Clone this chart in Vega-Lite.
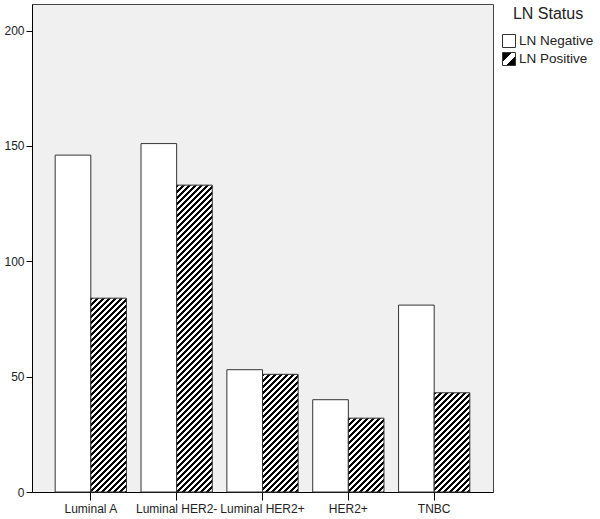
{
  "$schema": "https://vega.github.io/schema/vega-lite/v6.json",
  "width": 461,
  "height": 488,
  "autosize": {"type": "none"},
  "padding": {"left": 32, "top": 4, "right": 107, "bottom": 27},
  "background": "white",
  "config": {"view": {"fill": "#f0f0f0", "stroke": "#444", "strokeWidth": 1}},
  "data": {"values": [
    {"subtype": "Luminal A", "status": "LN Negative", "count": 146},
    {"subtype": "Luminal A", "status": "LN Positive", "count": 84},
    {"subtype": "Luminal HER2-", "status": "LN Negative", "count": 151},
    {"subtype": "Luminal HER2-", "status": "LN Positive", "count": 133},
    {"subtype": "Luminal HER2+", "status": "LN Negative", "count": 53},
    {"subtype": "Luminal HER2+", "status": "LN Positive", "count": 51},
    {"subtype": "HER2+", "status": "LN Negative", "count": 40},
    {"subtype": "HER2+", "status": "LN Positive", "count": 32},
    {"subtype": "TNBC", "status": "LN Negative", "count": 81},
    {"subtype": "TNBC", "status": "LN Positive", "count": 43}
  ]},
  "mark": {"type": "bar", "strokeWidth": 1},
  "encoding": {
    "x": {"field": "subtype", "type": "nominal", "sort": ["Luminal A", "Luminal HER2-", "Luminal HER2+", "HER2+", "TNBC"],
      "scale": {"paddingInner": 0.17, "paddingOuter": 0.27},
      "axis": {"title": null, "labelAngle": 0, "labelOverlap": false, "tickSize": 8, "labelPadding": 3, "labelFontSize": 12, "labelFont": "Liberation Sans", "labelColor": "#222", "domainColor": "#000", "tickColor": "#000", "grid": false}},
    "xOffset": {"field": "status", "type": "nominal", "scale": {"paddingInner": 0, "paddingOuter": 0}},
    "y": {"field": "count", "type": "quantitative",
      "scale": {"domain": [0, 211.5], "nice": false},
      "axis": {"title": null, "values": [0, 50, 100, 150, 200], "tickSize": 6, "labelPadding": 2, "labelFontSize": 12, "labelFont": "Liberation Sans", "labelColor": "#222", "domainColor": "#000", "tickColor": "#000", "grid": false}},
    "stroke": {"field": "status", "type": "nominal",
      "scale": {"domain": ["LN Negative", "LN Positive"], "range": ["#333", "#333"]},
      "legend": {"title": "LN Status"}},
    "fill": {"field": "status", "type": "nominal",
      "scale": {"domain": ["LN Negative", "LN Positive"], "range": ["white", {"expr": "{gradient: 'linear', x1: 0, y1: 0, x2: 1, y2: 1, stops: [{offset: 0, color: '#000'}, {offset: 0.38, color: '#000'}, {offset: 0.38, color: '#fff'}, {offset: 0.62, color: '#fff'}, {offset: 0.62, color: '#000'}, {offset: 1, color: '#000'}]}"}]},
      "legend": {"title": "LN Status", "orient": "right", "offset": 7, "padding": 2, "titleFontSize": 16, "titleFontWeight": "normal", "titleFont": "Liberation Sans", "titleColor": "#222", "titleAnchor": "middle", "titlePadding": 12, "labelFontSize": 13.5, "labelFont": "Liberation Sans", "labelColor": "#222", "labelOffset": 3, "rowPadding": 0, "symbolType": "square", "symbolSize": 169, "symbolStrokeWidth": 1},
      "condition": [
        {"test": "datum.status === 'LN Positive' && datum.subtype === 'Luminal A'", "value": {"gradient": "linear", "x1": 0, "y1": 0, "x2": 0.55048, "y2": 2.9945, "stops": [
{"offset":0,"color":"#000"},{"offset":0.005,"color":"#000"},{"offset":0.005,"color":"#fff"},{"offset":0.01,"color":"#fff"},
{"offset":0.01,"color":"#000"},{"offset":0.015,"color":"#000"},{"offset":0.015,"color":"#fff"},{"offset":0.02,"color":"#fff"},
{"offset":0.02,"color":"#000"},{"offset":0.025,"color":"#000"},{"offset":0.025,"color":"#fff"},{"offset":0.03,"color":"#fff"},
{"offset":0.03,"color":"#000"},{"offset":0.035,"color":"#000"},{"offset":0.035,"color":"#fff"},{"offset":0.04,"color":"#fff"},
{"offset":0.04,"color":"#000"},{"offset":0.045,"color":"#000"},{"offset":0.045,"color":"#fff"},{"offset":0.05,"color":"#fff"},
{"offset":0.05,"color":"#000"},{"offset":0.055,"color":"#000"},{"offset":0.055,"color":"#fff"},{"offset":0.06,"color":"#fff"},
{"offset":0.06,"color":"#000"},{"offset":0.065,"color":"#000"},{"offset":0.065,"color":"#fff"},{"offset":0.07,"color":"#fff"},
{"offset":0.07,"color":"#000"},{"offset":0.075,"color":"#000"},{"offset":0.075,"color":"#fff"},{"offset":0.08,"color":"#fff"},
{"offset":0.08,"color":"#000"},{"offset":0.085,"color":"#000"},{"offset":0.085,"color":"#fff"},{"offset":0.09,"color":"#fff"},
{"offset":0.09,"color":"#000"},{"offset":0.095,"color":"#000"},{"offset":0.095,"color":"#fff"},{"offset":0.1,"color":"#fff"},
{"offset":0.1,"color":"#000"},{"offset":0.105,"color":"#000"},{"offset":0.105,"color":"#fff"},{"offset":0.11,"color":"#fff"},
{"offset":0.11,"color":"#000"},{"offset":0.115,"color":"#000"},{"offset":0.115,"color":"#fff"},{"offset":0.12,"color":"#fff"},
{"offset":0.12,"color":"#000"},{"offset":0.125,"color":"#000"},{"offset":0.125,"color":"#fff"},{"offset":0.13,"color":"#fff"},
{"offset":0.13,"color":"#000"},{"offset":0.135,"color":"#000"},{"offset":0.135,"color":"#fff"},{"offset":0.14,"color":"#fff"},
{"offset":0.14,"color":"#000"},{"offset":0.145,"color":"#000"},{"offset":0.145,"color":"#fff"},{"offset":0.15,"color":"#fff"},
{"offset":0.15,"color":"#000"},{"offset":0.155,"color":"#000"},{"offset":0.155,"color":"#fff"},{"offset":0.16,"color":"#fff"},
{"offset":0.16,"color":"#000"},{"offset":0.165,"color":"#000"},{"offset":0.165,"color":"#fff"},{"offset":0.17,"color":"#fff"},
{"offset":0.17,"color":"#000"},{"offset":0.175,"color":"#000"},{"offset":0.175,"color":"#fff"},{"offset":0.18,"color":"#fff"},
{"offset":0.18,"color":"#000"},{"offset":0.185,"color":"#000"},{"offset":0.185,"color":"#fff"},{"offset":0.19,"color":"#fff"},
{"offset":0.19,"color":"#000"},{"offset":0.195,"color":"#000"},{"offset":0.195,"color":"#fff"},{"offset":0.2,"color":"#fff"},
{"offset":0.2,"color":"#000"},{"offset":0.205,"color":"#000"},{"offset":0.205,"color":"#fff"},{"offset":0.21,"color":"#fff"},
{"offset":0.21,"color":"#000"},{"offset":0.215,"color":"#000"},{"offset":0.215,"color":"#fff"},{"offset":0.22,"color":"#fff"},
{"offset":0.22,"color":"#000"},{"offset":0.225,"color":"#000"},{"offset":0.225,"color":"#fff"},{"offset":0.23,"color":"#fff"},
{"offset":0.23,"color":"#000"},{"offset":0.235,"color":"#000"},{"offset":0.235,"color":"#fff"},{"offset":0.24,"color":"#fff"},
{"offset":0.24,"color":"#000"},{"offset":0.245,"color":"#000"},{"offset":0.245,"color":"#fff"},{"offset":0.25,"color":"#fff"},
{"offset":0.25,"color":"#000"},{"offset":0.255,"color":"#000"},{"offset":0.255,"color":"#fff"},{"offset":0.26,"color":"#fff"},
{"offset":0.26,"color":"#000"},{"offset":0.265,"color":"#000"},{"offset":0.265,"color":"#fff"},{"offset":0.27,"color":"#fff"},
{"offset":0.27,"color":"#000"},{"offset":0.275,"color":"#000"},{"offset":0.275,"color":"#fff"},{"offset":0.28,"color":"#fff"},
{"offset":0.28,"color":"#000"},{"offset":0.285,"color":"#000"},{"offset":0.285,"color":"#fff"},{"offset":0.29,"color":"#fff"},
{"offset":0.29,"color":"#000"},{"offset":0.295,"color":"#000"},{"offset":0.295,"color":"#fff"},{"offset":0.3,"color":"#fff"},
{"offset":0.3,"color":"#000"},{"offset":0.305,"color":"#000"},{"offset":0.305,"color":"#fff"},{"offset":0.31,"color":"#fff"},
{"offset":0.31,"color":"#000"},{"offset":0.315,"color":"#000"},{"offset":0.315,"color":"#fff"},{"offset":0.32,"color":"#fff"},
{"offset":0.32,"color":"#000"},{"offset":0.325,"color":"#000"},{"offset":0.325,"color":"#fff"},{"offset":0.33,"color":"#fff"},
{"offset":0.33,"color":"#000"},{"offset":0.335,"color":"#000"},{"offset":0.335,"color":"#fff"},{"offset":0.34,"color":"#fff"},
{"offset":0.34,"color":"#000"},{"offset":0.345,"color":"#000"},{"offset":0.345,"color":"#fff"},{"offset":0.35,"color":"#fff"},
{"offset":0.35,"color":"#000"},{"offset":0.355,"color":"#000"},{"offset":0.355,"color":"#fff"},{"offset":0.36,"color":"#fff"},
{"offset":0.36,"color":"#000"},{"offset":0.365,"color":"#000"},{"offset":0.365,"color":"#fff"},{"offset":0.37,"color":"#fff"},
{"offset":0.37,"color":"#000"},{"offset":0.375,"color":"#000"},{"offset":0.375,"color":"#fff"},{"offset":0.38,"color":"#fff"},
{"offset":0.38,"color":"#000"},{"offset":0.385,"color":"#000"},{"offset":0.385,"color":"#fff"},{"offset":0.39,"color":"#fff"}
        ]}},
        {"test": "datum.status === 'LN Positive' && datum.subtype === 'Luminal HER2-'", "value": {"gradient": "linear", "x1": 0, "y1": 0, "x2": 0.22398, "y2": 1.9292, "stops": [
{"offset":0,"color":"#000"},{"offset":0.005,"color":"#000"},{"offset":0.005,"color":"#fff"},{"offset":0.01,"color":"#fff"},
{"offset":0.01,"color":"#000"},{"offset":0.015,"color":"#000"},{"offset":0.015,"color":"#fff"},{"offset":0.02,"color":"#fff"},
{"offset":0.02,"color":"#000"},{"offset":0.025,"color":"#000"},{"offset":0.025,"color":"#fff"},{"offset":0.03,"color":"#fff"},
{"offset":0.03,"color":"#000"},{"offset":0.035,"color":"#000"},{"offset":0.035,"color":"#fff"},{"offset":0.04,"color":"#fff"},
{"offset":0.04,"color":"#000"},{"offset":0.045,"color":"#000"},{"offset":0.045,"color":"#fff"},{"offset":0.05,"color":"#fff"},
{"offset":0.05,"color":"#000"},{"offset":0.055,"color":"#000"},{"offset":0.055,"color":"#fff"},{"offset":0.06,"color":"#fff"},
{"offset":0.06,"color":"#000"},{"offset":0.065,"color":"#000"},{"offset":0.065,"color":"#fff"},{"offset":0.07,"color":"#fff"},
{"offset":0.07,"color":"#000"},{"offset":0.075,"color":"#000"},{"offset":0.075,"color":"#fff"},{"offset":0.08,"color":"#fff"},
{"offset":0.08,"color":"#000"},{"offset":0.085,"color":"#000"},{"offset":0.085,"color":"#fff"},{"offset":0.09,"color":"#fff"},
{"offset":0.09,"color":"#000"},{"offset":0.095,"color":"#000"},{"offset":0.095,"color":"#fff"},{"offset":0.1,"color":"#fff"},
{"offset":0.1,"color":"#000"},{"offset":0.105,"color":"#000"},{"offset":0.105,"color":"#fff"},{"offset":0.11,"color":"#fff"},
{"offset":0.11,"color":"#000"},{"offset":0.115,"color":"#000"},{"offset":0.115,"color":"#fff"},{"offset":0.12,"color":"#fff"},
{"offset":0.12,"color":"#000"},{"offset":0.125,"color":"#000"},{"offset":0.125,"color":"#fff"},{"offset":0.13,"color":"#fff"},
{"offset":0.13,"color":"#000"},{"offset":0.135,"color":"#000"},{"offset":0.135,"color":"#fff"},{"offset":0.14,"color":"#fff"},
{"offset":0.14,"color":"#000"},{"offset":0.145,"color":"#000"},{"offset":0.145,"color":"#fff"},{"offset":0.15,"color":"#fff"},
{"offset":0.15,"color":"#000"},{"offset":0.155,"color":"#000"},{"offset":0.155,"color":"#fff"},{"offset":0.16,"color":"#fff"},
{"offset":0.16,"color":"#000"},{"offset":0.165,"color":"#000"},{"offset":0.165,"color":"#fff"},{"offset":0.17,"color":"#fff"},
{"offset":0.17,"color":"#000"},{"offset":0.175,"color":"#000"},{"offset":0.175,"color":"#fff"},{"offset":0.18,"color":"#fff"},
{"offset":0.18,"color":"#000"},{"offset":0.185,"color":"#000"},{"offset":0.185,"color":"#fff"},{"offset":0.19,"color":"#fff"},
{"offset":0.19,"color":"#000"},{"offset":0.195,"color":"#000"},{"offset":0.195,"color":"#fff"},{"offset":0.2,"color":"#fff"},
{"offset":0.2,"color":"#000"},{"offset":0.205,"color":"#000"},{"offset":0.205,"color":"#fff"},{"offset":0.21,"color":"#fff"},
{"offset":0.21,"color":"#000"},{"offset":0.215,"color":"#000"},{"offset":0.215,"color":"#fff"},{"offset":0.22,"color":"#fff"},
{"offset":0.22,"color":"#000"},{"offset":0.225,"color":"#000"},{"offset":0.225,"color":"#fff"},{"offset":0.23,"color":"#fff"},
{"offset":0.23,"color":"#000"},{"offset":0.235,"color":"#000"},{"offset":0.235,"color":"#fff"},{"offset":0.24,"color":"#fff"},
{"offset":0.24,"color":"#000"},{"offset":0.245,"color":"#000"},{"offset":0.245,"color":"#fff"},{"offset":0.25,"color":"#fff"},
{"offset":0.25,"color":"#000"},{"offset":0.255,"color":"#000"},{"offset":0.255,"color":"#fff"},{"offset":0.26,"color":"#fff"},
{"offset":0.26,"color":"#000"},{"offset":0.265,"color":"#000"},{"offset":0.265,"color":"#fff"},{"offset":0.27,"color":"#fff"},
{"offset":0.27,"color":"#000"},{"offset":0.275,"color":"#000"},{"offset":0.275,"color":"#fff"},{"offset":0.28,"color":"#fff"},
{"offset":0.28,"color":"#000"},{"offset":0.285,"color":"#000"},{"offset":0.285,"color":"#fff"},{"offset":0.29,"color":"#fff"},
{"offset":0.29,"color":"#000"},{"offset":0.295,"color":"#000"},{"offset":0.295,"color":"#fff"},{"offset":0.3,"color":"#fff"},
{"offset":0.3,"color":"#000"},{"offset":0.305,"color":"#000"},{"offset":0.305,"color":"#fff"},{"offset":0.31,"color":"#fff"},
{"offset":0.31,"color":"#000"},{"offset":0.315,"color":"#000"},{"offset":0.315,"color":"#fff"},{"offset":0.32,"color":"#fff"},
{"offset":0.32,"color":"#000"},{"offset":0.325,"color":"#000"},{"offset":0.325,"color":"#fff"},{"offset":0.33,"color":"#fff"},
{"offset":0.33,"color":"#000"},{"offset":0.335,"color":"#000"},{"offset":0.335,"color":"#fff"},{"offset":0.34,"color":"#fff"},
{"offset":0.34,"color":"#000"},{"offset":0.345,"color":"#000"},{"offset":0.345,"color":"#fff"},{"offset":0.35,"color":"#fff"},
{"offset":0.35,"color":"#000"},{"offset":0.355,"color":"#000"},{"offset":0.355,"color":"#fff"},{"offset":0.36,"color":"#fff"},
{"offset":0.36,"color":"#000"},{"offset":0.365,"color":"#000"},{"offset":0.365,"color":"#fff"},{"offset":0.37,"color":"#fff"},
{"offset":0.37,"color":"#000"},{"offset":0.375,"color":"#000"},{"offset":0.375,"color":"#fff"},{"offset":0.38,"color":"#fff"},
{"offset":0.38,"color":"#000"},{"offset":0.385,"color":"#000"},{"offset":0.385,"color":"#fff"},{"offset":0.39,"color":"#fff"},
{"offset":0.39,"color":"#000"},{"offset":0.395,"color":"#000"},{"offset":0.395,"color":"#fff"},{"offset":0.4,"color":"#fff"},
{"offset":0.4,"color":"#000"},{"offset":0.405,"color":"#000"},{"offset":0.405,"color":"#fff"},{"offset":0.41,"color":"#fff"},
{"offset":0.41,"color":"#000"},{"offset":0.415,"color":"#000"},{"offset":0.415,"color":"#fff"},{"offset":0.42,"color":"#fff"},
{"offset":0.42,"color":"#000"},{"offset":0.425,"color":"#000"},{"offset":0.425,"color":"#fff"},{"offset":0.43,"color":"#fff"},
{"offset":0.43,"color":"#000"},{"offset":0.435,"color":"#000"},{"offset":0.435,"color":"#fff"},{"offset":0.44,"color":"#fff"},
{"offset":0.44,"color":"#000"},{"offset":0.445,"color":"#000"},{"offset":0.445,"color":"#fff"},{"offset":0.45,"color":"#fff"},
{"offset":0.45,"color":"#000"},{"offset":0.455,"color":"#000"},{"offset":0.455,"color":"#fff"},{"offset":0.46,"color":"#fff"},
{"offset":0.46,"color":"#000"},{"offset":0.465,"color":"#000"},{"offset":0.465,"color":"#fff"},{"offset":0.47,"color":"#fff"},
{"offset":0.47,"color":"#000"},{"offset":0.475,"color":"#000"},{"offset":0.475,"color":"#fff"},{"offset":0.48,"color":"#fff"},
{"offset":0.48,"color":"#000"},{"offset":0.485,"color":"#000"},{"offset":0.485,"color":"#fff"},{"offset":0.49,"color":"#fff"},
{"offset":0.49,"color":"#000"},{"offset":0.495,"color":"#000"},{"offset":0.495,"color":"#fff"},{"offset":0.5,"color":"#fff"},
{"offset":0.5,"color":"#000"},{"offset":0.505,"color":"#000"},{"offset":0.505,"color":"#fff"},{"offset":0.51,"color":"#fff"},
{"offset":0.51,"color":"#000"},{"offset":0.515,"color":"#000"},{"offset":0.515,"color":"#fff"},{"offset":0.52,"color":"#fff"},
{"offset":0.52,"color":"#000"},{"offset":0.525,"color":"#000"},{"offset":0.525,"color":"#fff"},{"offset":0.53,"color":"#fff"},
{"offset":0.53,"color":"#000"},{"offset":0.535,"color":"#000"},{"offset":0.535,"color":"#fff"},{"offset":0.54,"color":"#fff"},
{"offset":0.54,"color":"#000"},{"offset":0.545,"color":"#000"},{"offset":0.545,"color":"#fff"},{"offset":0.55,"color":"#fff"},
{"offset":0.55,"color":"#000"},{"offset":0.555,"color":"#000"},{"offset":0.555,"color":"#fff"},{"offset":0.56,"color":"#fff"},
{"offset":0.56,"color":"#000"},{"offset":0.565,"color":"#000"},{"offset":0.565,"color":"#fff"},{"offset":0.57,"color":"#fff"},
{"offset":0.57,"color":"#000"},{"offset":0.575,"color":"#000"},{"offset":0.575,"color":"#fff"},{"offset":0.58,"color":"#fff"}
        ]}},
        {"test": "datum.status === 'LN Positive' && datum.subtype === 'Luminal HER2+'", "value": {"gradient": "linear", "x1": 0, "y1": 0, "x2": 1.4143, "y2": 4.6707, "stops": [
{"offset":0,"color":"#000"},{"offset":0.005,"color":"#000"},{"offset":0.005,"color":"#fff"},{"offset":0.01,"color":"#fff"},
{"offset":0.01,"color":"#000"},{"offset":0.015,"color":"#000"},{"offset":0.015,"color":"#fff"},{"offset":0.02,"color":"#fff"},
{"offset":0.02,"color":"#000"},{"offset":0.025,"color":"#000"},{"offset":0.025,"color":"#fff"},{"offset":0.03,"color":"#fff"},
{"offset":0.03,"color":"#000"},{"offset":0.035,"color":"#000"},{"offset":0.035,"color":"#fff"},{"offset":0.04,"color":"#fff"},
{"offset":0.04,"color":"#000"},{"offset":0.045,"color":"#000"},{"offset":0.045,"color":"#fff"},{"offset":0.05,"color":"#fff"},
{"offset":0.05,"color":"#000"},{"offset":0.055,"color":"#000"},{"offset":0.055,"color":"#fff"},{"offset":0.06,"color":"#fff"},
{"offset":0.06,"color":"#000"},{"offset":0.065,"color":"#000"},{"offset":0.065,"color":"#fff"},{"offset":0.07,"color":"#fff"},
{"offset":0.07,"color":"#000"},{"offset":0.075,"color":"#000"},{"offset":0.075,"color":"#fff"},{"offset":0.08,"color":"#fff"},
{"offset":0.08,"color":"#000"},{"offset":0.085,"color":"#000"},{"offset":0.085,"color":"#fff"},{"offset":0.09,"color":"#fff"},
{"offset":0.09,"color":"#000"},{"offset":0.095,"color":"#000"},{"offset":0.095,"color":"#fff"},{"offset":0.1,"color":"#fff"},
{"offset":0.1,"color":"#000"},{"offset":0.105,"color":"#000"},{"offset":0.105,"color":"#fff"},{"offset":0.11,"color":"#fff"},
{"offset":0.11,"color":"#000"},{"offset":0.115,"color":"#000"},{"offset":0.115,"color":"#fff"},{"offset":0.12,"color":"#fff"},
{"offset":0.12,"color":"#000"},{"offset":0.125,"color":"#000"},{"offset":0.125,"color":"#fff"},{"offset":0.13,"color":"#fff"},
{"offset":0.13,"color":"#000"},{"offset":0.135,"color":"#000"},{"offset":0.135,"color":"#fff"},{"offset":0.14,"color":"#fff"},
{"offset":0.14,"color":"#000"},{"offset":0.145,"color":"#000"},{"offset":0.145,"color":"#fff"},{"offset":0.15,"color":"#fff"},
{"offset":0.15,"color":"#000"},{"offset":0.155,"color":"#000"},{"offset":0.155,"color":"#fff"},{"offset":0.16,"color":"#fff"},
{"offset":0.16,"color":"#000"},{"offset":0.165,"color":"#000"},{"offset":0.165,"color":"#fff"},{"offset":0.17,"color":"#fff"},
{"offset":0.17,"color":"#000"},{"offset":0.175,"color":"#000"},{"offset":0.175,"color":"#fff"},{"offset":0.18,"color":"#fff"},
{"offset":0.18,"color":"#000"},{"offset":0.185,"color":"#000"},{"offset":0.185,"color":"#fff"},{"offset":0.19,"color":"#fff"},
{"offset":0.19,"color":"#000"},{"offset":0.195,"color":"#000"},{"offset":0.195,"color":"#fff"},{"offset":0.2,"color":"#fff"},
{"offset":0.2,"color":"#000"},{"offset":0.205,"color":"#000"},{"offset":0.205,"color":"#fff"},{"offset":0.21,"color":"#fff"},
{"offset":0.21,"color":"#000"},{"offset":0.215,"color":"#000"},{"offset":0.215,"color":"#fff"},{"offset":0.22,"color":"#fff"},
{"offset":0.22,"color":"#000"},{"offset":0.225,"color":"#000"},{"offset":0.225,"color":"#fff"},{"offset":0.23,"color":"#fff"},
{"offset":0.23,"color":"#000"},{"offset":0.235,"color":"#000"},{"offset":0.235,"color":"#fff"},{"offset":0.24,"color":"#fff"},
{"offset":0.24,"color":"#000"},{"offset":0.245,"color":"#000"},{"offset":0.245,"color":"#fff"},{"offset":0.25,"color":"#fff"},
{"offset":0.25,"color":"#000"},{"offset":0.255,"color":"#000"},{"offset":0.255,"color":"#fff"},{"offset":0.26,"color":"#fff"}
        ]}},
        {"test": "datum.status === 'LN Positive' && datum.subtype === 'HER2+'", "value": {"gradient": "linear", "x1": 0, "y1": 0, "x2": 3.1811, "y2": 6.5916, "stops": [
{"offset":0,"color":"#000"},{"offset":0.005,"color":"#000"},{"offset":0.005,"color":"#fff"},{"offset":0.01,"color":"#fff"},
{"offset":0.01,"color":"#000"},{"offset":0.015,"color":"#000"},{"offset":0.015,"color":"#fff"},{"offset":0.02,"color":"#fff"},
{"offset":0.02,"color":"#000"},{"offset":0.025,"color":"#000"},{"offset":0.025,"color":"#fff"},{"offset":0.03,"color":"#fff"},
{"offset":0.03,"color":"#000"},{"offset":0.035,"color":"#000"},{"offset":0.035,"color":"#fff"},{"offset":0.04,"color":"#fff"},
{"offset":0.04,"color":"#000"},{"offset":0.045,"color":"#000"},{"offset":0.045,"color":"#fff"},{"offset":0.05,"color":"#fff"},
{"offset":0.05,"color":"#000"},{"offset":0.055,"color":"#000"},{"offset":0.055,"color":"#fff"},{"offset":0.06,"color":"#fff"},
{"offset":0.06,"color":"#000"},{"offset":0.065,"color":"#000"},{"offset":0.065,"color":"#fff"},{"offset":0.07,"color":"#fff"},
{"offset":0.07,"color":"#000"},{"offset":0.075,"color":"#000"},{"offset":0.075,"color":"#fff"},{"offset":0.08,"color":"#fff"},
{"offset":0.08,"color":"#000"},{"offset":0.085,"color":"#000"},{"offset":0.085,"color":"#fff"},{"offset":0.09,"color":"#fff"},
{"offset":0.09,"color":"#000"},{"offset":0.095,"color":"#000"},{"offset":0.095,"color":"#fff"},{"offset":0.1,"color":"#fff"},
{"offset":0.1,"color":"#000"},{"offset":0.105,"color":"#000"},{"offset":0.105,"color":"#fff"},{"offset":0.11,"color":"#fff"},
{"offset":0.11,"color":"#000"},{"offset":0.115,"color":"#000"},{"offset":0.115,"color":"#fff"},{"offset":0.12,"color":"#fff"},
{"offset":0.12,"color":"#000"},{"offset":0.125,"color":"#000"},{"offset":0.125,"color":"#fff"},{"offset":0.13,"color":"#fff"},
{"offset":0.13,"color":"#000"},{"offset":0.135,"color":"#000"},{"offset":0.135,"color":"#fff"},{"offset":0.14,"color":"#fff"},
{"offset":0.14,"color":"#000"},{"offset":0.145,"color":"#000"},{"offset":0.145,"color":"#fff"},{"offset":0.15,"color":"#fff"},
{"offset":0.15,"color":"#000"},{"offset":0.155,"color":"#000"},{"offset":0.155,"color":"#fff"},{"offset":0.16,"color":"#fff"},
{"offset":0.16,"color":"#000"},{"offset":0.165,"color":"#000"},{"offset":0.165,"color":"#fff"},{"offset":0.17,"color":"#fff"},
{"offset":0.17,"color":"#000"},{"offset":0.175,"color":"#000"},{"offset":0.175,"color":"#fff"},{"offset":0.18,"color":"#fff"},
{"offset":0.18,"color":"#000"},{"offset":0.185,"color":"#000"},{"offset":0.185,"color":"#fff"},{"offset":0.19,"color":"#fff"}
        ]}},
        {"test": "datum.status === 'LN Positive' && datum.subtype === 'TNBC'", "value": {"gradient": "linear", "x1": 0, "y1": 0, "x2": 1.92351, "y2": 5.3564, "stops": [
{"offset":0,"color":"#000"},{"offset":0.005,"color":"#000"},{"offset":0.005,"color":"#fff"},{"offset":0.01,"color":"#fff"},
{"offset":0.01,"color":"#000"},{"offset":0.015,"color":"#000"},{"offset":0.015,"color":"#fff"},{"offset":0.02,"color":"#fff"},
{"offset":0.02,"color":"#000"},{"offset":0.025,"color":"#000"},{"offset":0.025,"color":"#fff"},{"offset":0.03,"color":"#fff"},
{"offset":0.03,"color":"#000"},{"offset":0.035,"color":"#000"},{"offset":0.035,"color":"#fff"},{"offset":0.04,"color":"#fff"},
{"offset":0.04,"color":"#000"},{"offset":0.045,"color":"#000"},{"offset":0.045,"color":"#fff"},{"offset":0.05,"color":"#fff"},
{"offset":0.05,"color":"#000"},{"offset":0.055,"color":"#000"},{"offset":0.055,"color":"#fff"},{"offset":0.06,"color":"#fff"},
{"offset":0.06,"color":"#000"},{"offset":0.065,"color":"#000"},{"offset":0.065,"color":"#fff"},{"offset":0.07,"color":"#fff"},
{"offset":0.07,"color":"#000"},{"offset":0.075,"color":"#000"},{"offset":0.075,"color":"#fff"},{"offset":0.08,"color":"#fff"},
{"offset":0.08,"color":"#000"},{"offset":0.085,"color":"#000"},{"offset":0.085,"color":"#fff"},{"offset":0.09,"color":"#fff"},
{"offset":0.09,"color":"#000"},{"offset":0.095,"color":"#000"},{"offset":0.095,"color":"#fff"},{"offset":0.1,"color":"#fff"},
{"offset":0.1,"color":"#000"},{"offset":0.105,"color":"#000"},{"offset":0.105,"color":"#fff"},{"offset":0.11,"color":"#fff"},
{"offset":0.11,"color":"#000"},{"offset":0.115,"color":"#000"},{"offset":0.115,"color":"#fff"},{"offset":0.12,"color":"#fff"},
{"offset":0.12,"color":"#000"},{"offset":0.125,"color":"#000"},{"offset":0.125,"color":"#fff"},{"offset":0.13,"color":"#fff"},
{"offset":0.13,"color":"#000"},{"offset":0.135,"color":"#000"},{"offset":0.135,"color":"#fff"},{"offset":0.14,"color":"#fff"},
{"offset":0.14,"color":"#000"},{"offset":0.145,"color":"#000"},{"offset":0.145,"color":"#fff"},{"offset":0.15,"color":"#fff"},
{"offset":0.15,"color":"#000"},{"offset":0.155,"color":"#000"},{"offset":0.155,"color":"#fff"},{"offset":0.16,"color":"#fff"},
{"offset":0.16,"color":"#000"},{"offset":0.165,"color":"#000"},{"offset":0.165,"color":"#fff"},{"offset":0.17,"color":"#fff"},
{"offset":0.17,"color":"#000"},{"offset":0.175,"color":"#000"},{"offset":0.175,"color":"#fff"},{"offset":0.18,"color":"#fff"},
{"offset":0.18,"color":"#000"},{"offset":0.185,"color":"#000"},{"offset":0.185,"color":"#fff"},{"offset":0.19,"color":"#fff"},
{"offset":0.19,"color":"#000"},{"offset":0.195,"color":"#000"},{"offset":0.195,"color":"#fff"},{"offset":0.2,"color":"#fff"},
{"offset":0.2,"color":"#000"},{"offset":0.205,"color":"#000"},{"offset":0.205,"color":"#fff"},{"offset":0.21,"color":"#fff"},
{"offset":0.21,"color":"#000"},{"offset":0.215,"color":"#000"},{"offset":0.215,"color":"#fff"},{"offset":0.22,"color":"#fff"},
{"offset":0.22,"color":"#000"},{"offset":0.225,"color":"#000"},{"offset":0.225,"color":"#fff"},{"offset":0.23,"color":"#fff"}
        ]}}
      ]
    }
  }
}
